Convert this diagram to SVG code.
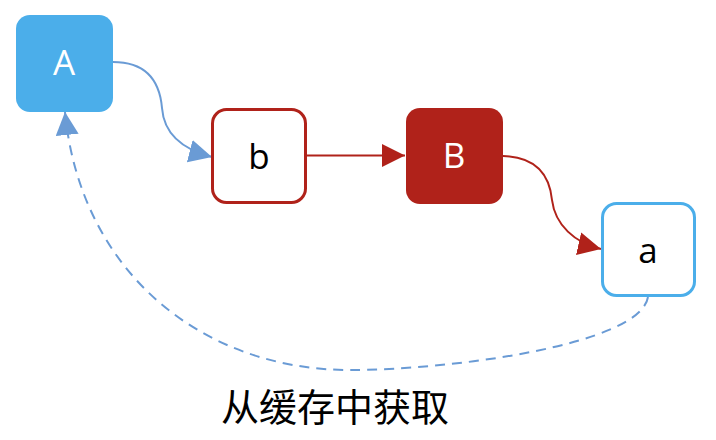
<svg xmlns="http://www.w3.org/2000/svg" width="716" height="440" viewBox="0 0 716 440">
<defs>
<style>
.lbl{font-family:"Open Sans","Noto Sans","Liberation Sans",sans-serif;font-size:35px;text-anchor:middle}
.w{fill:#ffffff}
.k{fill:#000000}
.blue{fill:none;stroke:#6A9BD5;stroke-width:2}
.red{fill:none;stroke:#B0221A;stroke-width:2}
.cap{font-family:"Noto Sans CJK SC","Noto Sans CJK JP",sans-serif;font-size:38px;text-anchor:middle;fill:#000}
</style>
<marker id="ab" markerUnits="userSpaceOnUse" markerWidth="24" markerHeight="24" refX="23" refY="11.5" orient="auto" viewBox="0 0 24 23">
<path d="M0,0 L23,11.5 L0,23 z" fill="#6A9BD5"/>
</marker>
<marker id="ar" markerUnits="userSpaceOnUse" markerWidth="24" markerHeight="24" refX="23" refY="11.5" orient="auto" viewBox="0 0 24 23">
<path d="M0,0 L23,11.5 L0,23 z" fill="#B0221A"/>
</marker>
</defs>
<rect width="716" height="440" fill="#ffffff"/>
<g id="connectors">
<path class="blue" d="M113,62 C150,62 160,85 162,108 C164,135 185,150 212,157" marker-end="url(#ab)"/>
<path class="red" d="M307,155.5 L405,155.5" marker-end="url(#ar)"/>
<path class="red" d="M503,156 C540,157 550,180 552,200 C555,225 575,243 601,249" marker-end="url(#ar)"/>
<path class="blue" d="M648,297 C640,345 450,370 350,370 C200,370 80,270 65,112" stroke-dasharray="10 7" marker-end="url(#ab)"/>
</g>
<g id="node-A">
<rect x="16" y="15" width="97" height="97" rx="14" fill="#4BAEEA"/>
<text class="lbl w" x="64" y="75">A</text>
</g>
<g id="node-b">
<rect x="212.5" y="109.5" width="93" height="93" rx="14" fill="#ffffff" stroke="#B0221A" stroke-width="3"/>
<text class="lbl k" x="259" y="169">b</text>
</g>
<g id="node-B">
<rect x="406" y="108" width="97" height="96" rx="14" fill="#B0221A"/>
<text class="lbl w" x="454" y="168">B</text>
</g>
<g id="node-a">
<rect x="602.5" y="203.5" width="92" height="92" rx="14" fill="#ffffff" stroke="#4BAEEA" stroke-width="3"/>
<text class="lbl k" x="648" y="263">a</text>
</g>
<g id="label">
<text class="cap" x="335" y="421">从缓存中获取</text>
</g>
</svg>
